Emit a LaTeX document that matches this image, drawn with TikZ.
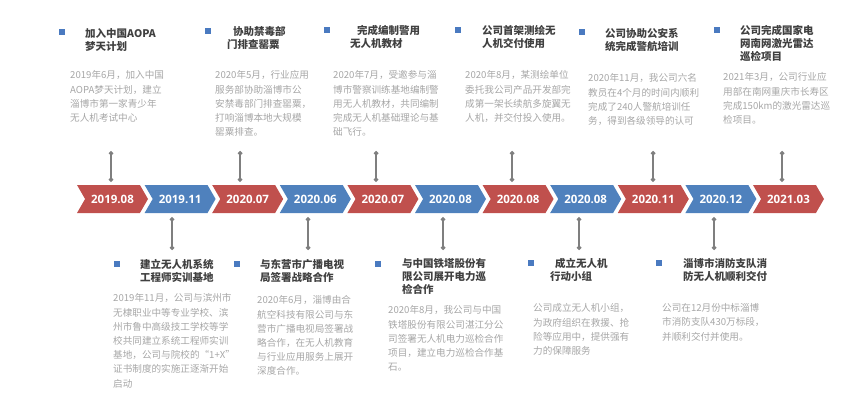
\documentclass[tikz,border=0pt]{standalone}
\usepackage{fontspec}
\setmainfont{Noto Sans CJK SC}
\newfontfamily\datefont{Open Sans}
\usetikzlibrary{shapes.symbols, arrows.meta, calc}
\definecolor{chevred}{RGB}{192, 80, 77}
\definecolor{chevblue}{RGB}{79, 129, 189}
\definecolor{headgray}{RGB}{64, 64, 64}
\definecolor{notegray}{RGB}{166, 166, 166}
\definecolor{linkgray}{RGB}{127, 127, 127}
\definecolor{markblue}{RGB}{74, 122, 192}

\tikzset{
    datebox/.style={signal, signal from=west, signal to=east, signal pointer angle=120, minimum width=71pt, minimum height=28pt, inner sep=0pt, text=white, font=\datefont\bfseries\fontsize{11.5}{11.5}\selectfont},
    headline/.style={anchor=north west, inner sep=0pt, align=left, text=headgray, font=\bfseries\fontsize{10.5}{13}\selectfont},
    notetext/.style={anchor=north west, inner sep=0pt, align=left, text=notegray, font=\fontsize{9.6}{14.2}\selectfont},
    marker/.style={rectangle, fill=markblue, minimum size=6.5pt, inner sep=0pt},
    link/.style={draw=linkgray, line width=1.2pt, {Circle[length=4.5pt]}-{Circle[length=4.5pt]}}
}

\begin{document}
\begin{tikzpicture}[x=1pt, y=-1pt]
    \useasboundingbox (0,0) rectangle (860,420);

    % timeline
    \node[datebox, fill=chevred] (c1) at (112.5,199) {2019.08};
    \node[datebox, fill=chevblue] (c2) at (180.1,199) {2019.11};
    \node[datebox, fill=chevred] (c3) at (247.7,199) {2020.07};
    \node[datebox, fill=chevblue] (c4) at (315.3,199) {2020.06};
    \node[datebox, fill=chevred] (c5) at (382.9,199) {2020.07};
    \node[datebox, fill=chevblue] (c6) at (450.5,199) {2020.08};
    \node[datebox, fill=chevred] (c7) at (518.1,199) {2020.08};
    \node[datebox, fill=chevblue] (c8) at (585.7,199) {2020.08};
    \node[datebox, fill=chevred] (c9) at (653.3,199) {2020.11};
    \node[datebox, fill=chevblue] (c10) at (720.9,199) {2020.12};
    \node[datebox, fill=chevred] (c11) at (788.5,199) {2021.03};

    % pins above
    \coordinate (t1) at (111,151);
    \coordinate (t3) at (240,151);
    \coordinate (t5) at (376,151);
    \coordinate (t7) at (512,151);
    \coordinate (t9) at (653,151);
    \coordinate (t11) at (782,151);
    \draw[link, shorten >=3pt] (t1) -- (t1 |- c1.north);
    \draw[link, shorten >=3pt] (t3) -- (t3 |- c3.north);
    \draw[link, shorten >=3pt] (t5) -- (t5 |- c5.north);
    \draw[link, shorten >=3pt] (t7) -- (t7 |- c7.north);
    \draw[link, shorten >=3pt] (t9) -- (t9 |- c9.north);
    \draw[link, shorten >=3pt] (t11) -- (t11 |- c11.north);

    % pins below
    \coordinate (b2) at (172,250);
    \coordinate (b4) at (308,250);
    \coordinate (b6) at (443,250);
    \coordinate (b8) at (579,250);
    \coordinate (b10) at (714,250);
    \draw[link, shorten <=4pt] (b2 |- c2.south) -- (b2);
    \draw[link, shorten <=4pt] (b4 |- c4.south) -- (b4);
    \draw[link, shorten <=4pt] (b6 |- c6.south) -- (b6);
    \draw[link, shorten <=4pt] (b8 |- c8.south) -- (b8);
    \draw[link, shorten <=4pt] (b10 |- c10.south) -- (b10);

    % upper row
    \node[marker] (m1) at (62,32) {};
    \node[headline] (h1) at (85,28) {加入中国AOPA\\梦天计划};
    \node[notetext] (p1) at (70,70.5) {2019年6月，加入中国\\AOPA梦天计划，建立\\淄博市第一家青少年\\无人机考试中心};

    \node[marker] (m3) at (208,31) {};
    \node[headline] (h3) at (227,26.5) {\hspace*{6pt}协助禁毒部\\门排查罂粟};
    \node[notetext] (p3) at (215,70.5) {2020年5月，行业应用\\服务部协助淄博市公\\安禁毒部门排查罂粟，\\打响淄博本地大规模\\罂粟排查。};

    \node[marker] (m5) at (327,30) {};
    \node[headline] (h5) at (350,25) {\hspace*{7pt}完成编制警用\\无人机教材};
    \node[notetext] (p5) at (333,70.5) {2020年7月，受邀参与淄\\博市警察训练基地编制警\\用无人机教材，共同编制\\完成无人机基础理论与基\\础飞行。};

    \node[marker] (m7) at (458,30) {};
    \node[headline] (h7) at (482,25) {公司首架测绘无\\人机交付使用};
    \node[notetext] (p7) at (465,70.5) {2020年8月，某测绘单位\\委托我公司产品开发部完\\成第一架长续航多旋翼无\\人机，并交付投入使用。};

    \node[marker] (m9) at (582,32) {};
    \node[headline] (h9) at (605,28) {公司协助公安系\\统完成警航培训};
    \node[notetext] (p9) at (588,73.5) {2020年11月，我公司六名\\教员在4个月的时间内顺利\\完成了240人警航培训任\\务，得到各级领导的认可};

    \node[marker] (m11) at (717,30) {};
    \node[headline] (h11) at (740,25) {公司完成国家电\\网南网激光雷达\\巡检项目};
    \node[notetext] (p11) at (723,72.5) {2021年3月，公司行业应\\用部在南网重庆市长寿区\\完成150km的激光雷达巡\\检项目。};

    % lower row
    \node[marker] (m2) at (117,264) {};
    \node[headline] (h2) at (140,259) {建立无人机系统\\工程师实训基地};
    \node[notetext] (p2) at (113,293.5) {2019年11月，公司与滨州市\\无棣职业中等专业学校、滨\\州市鲁中高级技工学校等学\\校共同建立系统工程师实训\\基地，公司与院校的“1+X”\\证书制度的实施正逐渐开始\\启动};

    \node[marker] (m4) at (237,264) {};
    \node[headline] (h4) at (260,259) {与东营市广播电视\\局签署战略合作};
    \node[notetext] (p4) at (257,295.5) {2020年6月，淄博由合\\航空科技有限公司与东\\营市广播电视局签署战\\略合作，在无人机教育\\与行业应用服务上展开\\深度合作。};

    \node[marker] (m6) at (378,264) {};
    \node[headline] (h6) at (402,258) {与中国铁塔股份有\\限公司展开电力巡\\检合作};
    \node[notetext] (p6) at (388,305.5) {2020年8月，我公司与中国\\铁塔股份有限公司湛江分公\\司签署无人机电力巡检合作\\项目，建立电力巡检合作基\\石。};

    \node[marker] (m8) at (531,263) {};
    \node[headline] (h8) at (550,258) {\hspace*{5pt}成立无人机\\行动小组};
    \node[notetext] (p8) at (533,303.5) {公司成立无人机小组，\\为政府组织在救援、抢\\险等应用中，提供强有\\力的保障服务};

    \node[marker] (m10) at (659,263) {};
    \node[headline] (h10) at (683,258) {淄博市消防支队消\\防无人机顺利交付};
    \node[notetext] (p10) at (662,303.5) {公司在12月份中标淄博\\市消防支队430万标段，\\并顺利交付并使用。};
\end{tikzpicture}
\end{document}
